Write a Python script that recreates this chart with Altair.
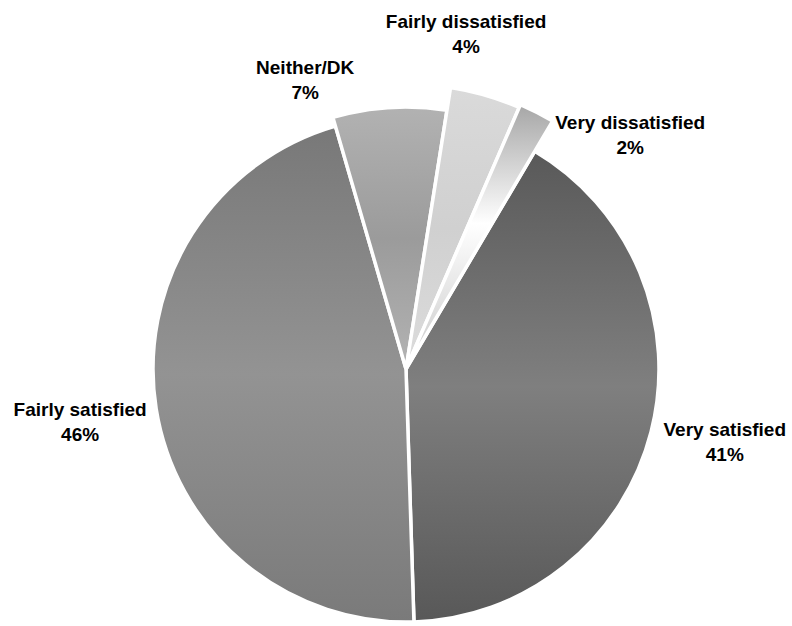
import altair as alt
import pandas as pd
import math

# ---- data ----
categories = ["Very satisfied", "Fairly satisfied", "Neither/DK", "Fairly dissatisfied", "Very dissatisfied"]
percents = [41, 46, 7, 4, 2]

df = pd.DataFrame({"cat": categories, "pct": percents, "order": list(range(len(categories)))})

# ---- styles ----
CX, CY = 406, 369
START = math.radians(30.6)
FONT = "Liberation Sans"

styles = {
    "Very satisfied": dict(stops=[(0, "#595959"), (0.5, "#7f7f7f"), (1, "#585858")], r=253, lr=326, dx=3, dy=-20),
    "Fairly satisfied": dict(stops=[(0, "#787878"), (0.5, "#939393"), (1, "#7a7a7a")], r=253, lr=331, dx=1, dy=-11),
    "Neither/DK": dict(stops=[(0, "#b2b2b2"), (0.5, "#9b9b9b"), (1, "#b3b3b3")], r=262, lr=300, dx=-82, dy=-2),
    "Fairly dissatisfied": dict(stops=[(0, "#dadada"), (0.5, "#d0d0d0"), (1, "#dcdcdc")], r=285, lr=330, dx=-32, dy=-30),
    "Very dissatisfied": dict(stops=[(0, "#a6a6a6"), (0.45, "#ffffff"), (1, "#c8c8c8")], r=288, lr=300, dx=88, dy=21),
}

theta_scale = alt.Scale(domain=[0, 100], range=[START, START + 2 * math.pi])

base = (
    alt.Chart(df)
    .transform_window(cum="sum(pct)", sort=[alt.SortField("order")], frame=[None, 0])
    .transform_calculate(
        start="datum.cum - datum.pct",
        mid="datum.cum - datum.pct / 2",
        label="datum.cat + '\\n' + datum.pct + '%'",
    )
)

arcs = []
texts = []
for cat in categories:
    s = styles[cat]
    grad = alt.LinearGradient(
        gradient="linear",
        x1=0, y1=0, x2=0, y2=1,
        stops=[alt.GradientStop(offset=o, color=c) for o, c in s["stops"]],
    )
    sub = base.transform_filter(alt.datum.cat == cat)
    arcs.append(
        sub.mark_arc(fill=grad, stroke="white", strokeWidth=3.5).encode(
            theta=alt.Theta("start:Q", scale=theta_scale),
            theta2="cum:Q",
            radius=alt.value(s["r"]),
            x=alt.value(CX),
            y=alt.value(CY),
        )
    )
    texts.append(
        sub.mark_text(
            font=FONT, fontSize=19, fontWeight="bold", color="black",
            lineBreak="\n", lineHeight=25, align="center", baseline="middle",
            dx=s["dx"], dy=s["dy"],
        ).encode(
            theta=alt.Theta("mid:Q", scale=theta_scale, stack=False),
            radius=alt.value(s["lr"]),
            x=alt.value(CX),
            y=alt.value(CY),
            text="label:N",
        )
    )

chart = (
    alt.layer(*arcs, *texts)
    .properties(width=792, height=626, padding=0, autosize="none", background="white")
    .configure_view(strokeWidth=0)
)

chart.save("out.html", embed_options={"renderer": "svg", "actions": False})
